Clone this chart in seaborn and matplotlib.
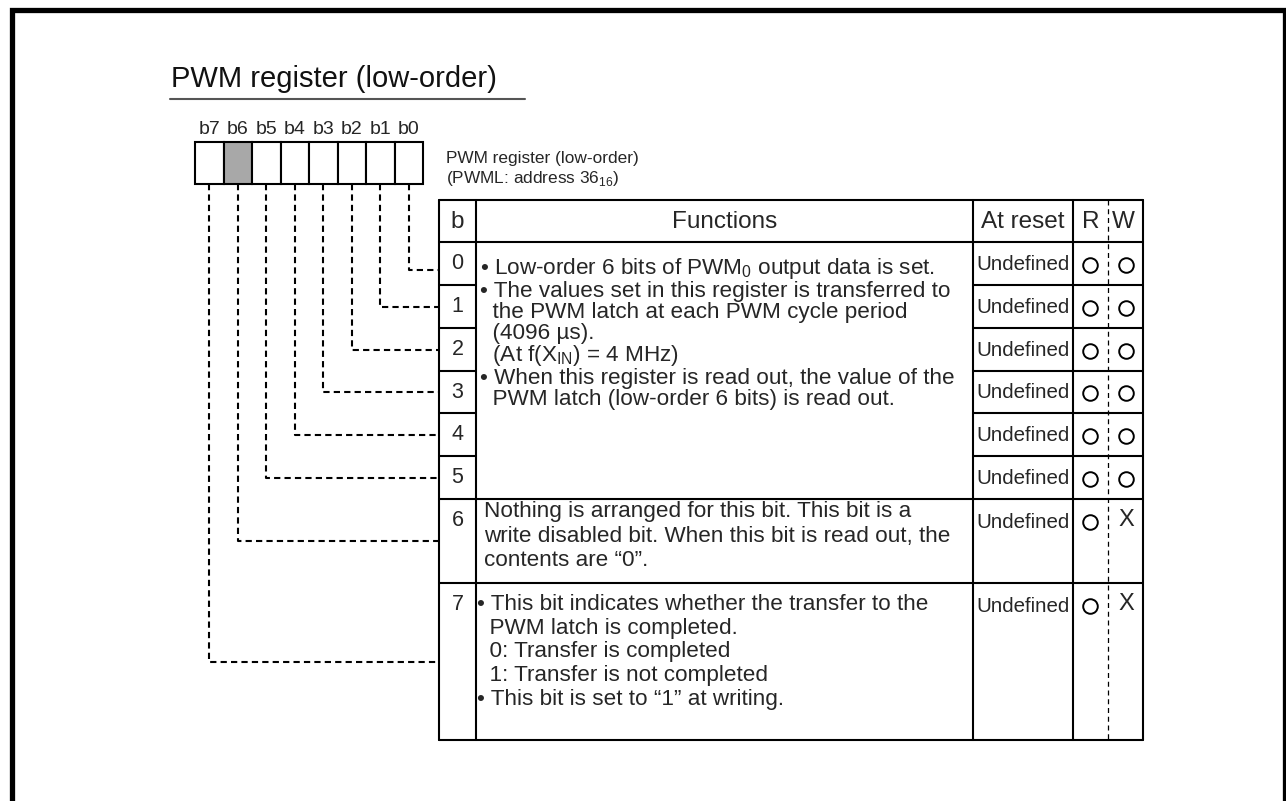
import matplotlib
matplotlib.use("Agg")
import matplotlib.pyplot as plt
import seaborn as sns

# ---- content ----
title = "PWM register (low-order)"
bit_names = ["b7", "b6", "b5", "b4", "b3", "b2", "b1", "b0"]
shaded_bits = ["b6"]
reg_name = "PWM register (low-order)"
reg_addr = r"(PWML: address 36$_{\mathrm{16}}$)"
headers = ["b", "Functions", "At reset", "R", "W"]
bit_numbers = ["0", "1", "2", "3", "4", "5", "6", "7"]
reset_values = ["Undefined"] * 8
read_access = ["O"] * 8
write_access = ["O"] * 6 + ["X", "X"]

# (has bullet, text)
func_bits0to5 = [
    (True, r"Low-order 6 bits of PWM$_{\mathrm{0}}$ output data is set."),
    (True, "The values set in this register is transferred to"),
    (False, "the PWM latch at each PWM cycle period"),
    (False, "(4096 \u00b5s)."),
    (False, r"(At f(X$_{\mathrm{IN}}$) = 4 MHz)"),
    (True, "When this register is read out, the value of the"),
    (False, "PWM latch (low-order 6 bits) is read out."),
]
func_bit6 = [
    "Nothing is arranged for this bit. This bit is a",
    "write disabled bit. When this bit is read out, the",
    "contents are \u201c0\u201d.",
]
func_bit7 = [
    (True, "This bit indicates whether the transfer to the"),
    (False, "PWM latch is completed."),
    (False, "0: Transfer is completed"),
    (False, "1: Transfer is not completed"),
    (True, "This bit is set to \u201c1\u201d at writing."),
]


def bulleted(lines):
    return "\n".join(("\u2022 " if b else "  ") + t for b, t in lines)


# ---- layout (pixels, y down) ----
W, H = 1286, 801
row_y = [200, 242, 285, 328, 371, 413, 456, 499, 583, 740]
col_x = [439, 476, 973, 1073, 1108, 1143]
cell_x0, cell_w, cell_top, cell_bot = 195, 28.5, 142, 184

sns.set_theme(style="white")
plt.rcParams["font.family"] = ["Liberation Sans", "DejaVu Sans"]
plt.rcParams["mathtext.fontset"] = "custom"
plt.rcParams["mathtext.rm"] = "Liberation Sans"

fig = plt.figure(figsize=(W / 100, H / 100), dpi=100)
ax = fig.add_axes([0, 0, 1, 1])
ax.set_xlim(0, W)
ax.set_ylim(H, 0)
ax.axis("off")

K = "black"
lw = 1.5

# page frame
ax.plot([11.5, 11.5, 1284.5, 1284.5], [H + 5, 9.5, 9.5, H + 5], color=K, lw=3.8,
        solid_joinstyle="miter")

# title
ax.text(171, 79, title, fontsize=21, ha="left", va="center", color="#111")
ax.plot([170, 525], [98.5, 98.5], color="#555", lw=1.5)

# register cells
for i, name in enumerate(bit_names):
    x = cell_x0 + i * cell_w
    face = "#a8a8a8" if name in shaded_bits else "white"
    ax.add_patch(plt.Rectangle((x, cell_top), cell_w, cell_bot - cell_top,
                               facecolor=face, edgecolor=K, lw=lw))
    ax.text(x + cell_w / 2, 130, name, fontsize=14, ha="center", va="center")

ax.text(446, 158, reg_name, fontsize=12.4, ha="left", va="center")
ax.text(446, 179, reg_addr, fontsize=12.4, ha="left", va="center")

# table grid (functions cell merged for bits 0-5)
for k, y in enumerate(row_y):
    if 2 <= k <= 6:
        ax.plot([col_x[0], col_x[1]], [y, y], color=K, lw=lw)
        ax.plot([col_x[2], col_x[5]], [y, y], color=K, lw=lw)
    else:
        ax.plot([col_x[0], col_x[5]], [y, y], color=K, lw=lw)
for x in [col_x[0], col_x[1], col_x[2], col_x[3], col_x[5]]:
    ax.plot([x, x], [row_y[0], row_y[-1]], color=K, lw=lw)
ax.plot([col_x[4], col_x[4]], [row_y[0], row_y[-1]], color=K, lw=0.9,
        dashes=(4, 3))

# header
hy = (row_y[0] + row_y[1]) / 2 + 1
hfs = 17.5
ax.text((col_x[0] + col_x[1]) / 2, hy, headers[0], fontsize=hfs, ha="center", va="center")
ax.text((col_x[1] + col_x[2]) / 2, hy, headers[1], fontsize=hfs, ha="center", va="center")
ax.text((col_x[2] + col_x[3]) / 2, hy, headers[2], fontsize=hfs, ha="center", va="center")
ax.text((col_x[3] + col_x[4]) / 2, hy, headers[3], fontsize=hfs, ha="center", va="center")
ax.text((col_x[4] + col_x[5]) / 2 - 2, hy, headers[4], fontsize=hfs, ha="center", va="center")

# per-bit rows
for b in range(8):
    top, bot = row_y[b + 1], row_y[b + 2]
    cy = (top + bot) / 2 if b < 6 else top + 22
    ax.text((col_x[0] + col_x[1]) / 2, cy, bit_numbers[b], fontsize=15.5, ha="center",
            va="center")
    ax.text(col_x[2] + 3, cy + 1, reset_values[b], fontsize=14.8, ha="left", va="center")
    if read_access[b] == "O":
        ax.plot([(col_x[3] + col_x[4]) / 2 - 1], [cy + 1], marker="o", ms=10.5,
                mfc="white", mec=K, mew=1.4)
    if write_access[b] == "O":
        ax.plot([(col_x[4] + col_x[5]) / 2], [cy + 1], marker="o", ms=10.5,
                mfc="white", mec=K, mew=1.4)
    else:
        ax.text((col_x[4] + col_x[5]) / 2 + 1, cy - 1, write_access[b], fontsize=17,
                ha="center", va="center")

# functions text (one block per cell)
fs = 16.2
ax.text(480, 256, bulleted(func_bits0to5), fontsize=fs, ha="left", va="top",
        linespacing=0.99)
ax.text(484, 501, "\n".join(func_bit6), fontsize=fs, ha="left", va="top",
        linespacing=1.23)
ax.text(477, 594, bulleted(func_bit7), fontsize=fs, ha="left", va="top",
        linespacing=1.17)

# dashed leader lines from bits to table rows
nudge = {0: 6}
for b in range(8):
    i = bit_names.index("b%d" % b)
    x = cell_x0 + i * cell_w + cell_w / 2
    top, bot = row_y[b + 1], row_y[b + 2]
    y = (top + bot) / 2 + nudge.get(b, 0)
    ax.plot([x, x, col_x[0]], [cell_bot, y, y], color=K, lw=lw, dashes=(3, 2))

fig.savefig("out.png", dpi=100, facecolor="white")
